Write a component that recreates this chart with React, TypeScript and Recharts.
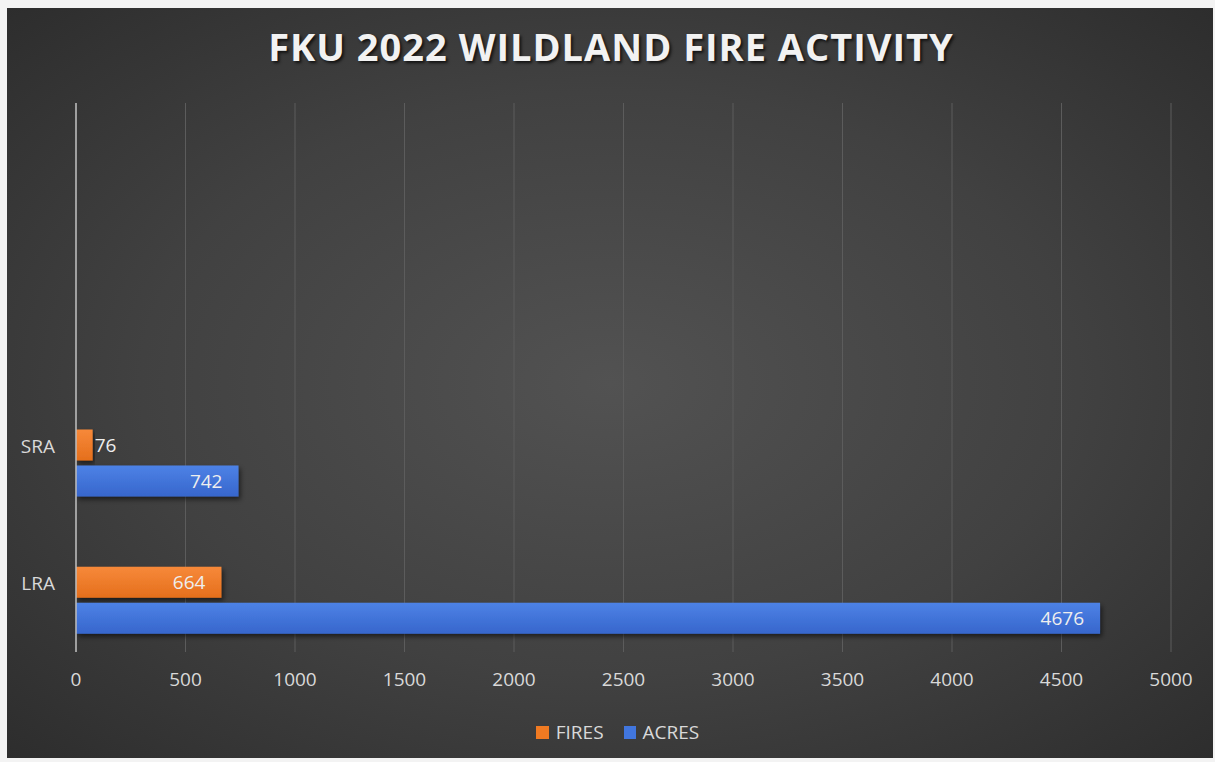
import React from "react"
import { BarChart, Bar, XAxis, YAxis, CartesianGrid, Legend, LabelList } from "recharts"

const categories = ["LRA", "SRA"]
const fires = [664, 76]
const acres = [4676, 742]
// the source sheet has two empty category rows above the data
const emptyRows = 2
const xTicks = [0, 500, 1000, 1500, 2000, 2500, 3000, 3500, 4000, 4500, 5000]

const rows = [
	...Array.from({ length: emptyRows }, () => ({ name: "", FIRES: null, ACRES: null })),
	...categories.map((name, i) => ({ name, FIRES: fires[i], ACRES: acres[i] })).reverse(),
]

const font = "'Open Sans', sans-serif"
const textColor = "#d9d9d9"

const BarValue = (props: any) => {
	const { x, y, width, height, value } = props
	if (value == null) return null
	const inside = width > 45
	return (
		<text
			x={inside ? x + width - 16 : x + width + 2}
			y={y + height / 2}
			textAnchor={inside ? "end" : "start"}
			dominantBaseline='central'
			fill='#eeeeee'
			fontSize={19}
			fontFamily={font}>
			{value}
		</text>
	)
}

const CategoryTick = (props: any) => {
	const { x, y, payload } = props
	return (
		<text x={x} y={y - 17} textAnchor='end' dominantBaseline='central' fill={textColor} fontSize={19} fontFamily={font}>
			{payload.value}
		</text>
	)
}

const LegendBox = () => (
	<div
		style={{
			display: "flex",
			justifyContent: "center",
			alignItems: "center",
			height: 22,
			paddingLeft: 20,
			fontFamily: font,
			fontSize: 19,
			color: textColor,
		}}>
		<span style={{ width: 13, height: 13, background: "#f07a22", marginRight: 7 }} />
		<span style={{ marginRight: 20 }}>FIRES</span>
		<span style={{ width: 12, height: 13, background: "#4176de", marginRight: 7 }} />
		<span>ACRES</span>
	</div>
)

const App = () => {
	return (
		<div style={{ position: "absolute", left: 0, top: 0, width: 1215, height: 762, background: "#f3f3f3" }}>
			<div
				style={{
					position: "absolute",
					left: 7,
					top: 8,
					width: 1206,
					height: 750,
					background: "radial-gradient(ellipse at 50% 50%, #525252 0%, #414141 55%, #2d2d2d 100%)",
				}}
			/>
			<div
				style={{
					position: "absolute",
					left: 0,
					top: 26,
					width: 1222,
					textAlign: "center",
					fontFamily: font,
					fontWeight: 700,
					fontSize: 38,
					lineHeight: "40px",
					letterSpacing: 1,
					color: "#f2f2f2",
					textShadow: "2px 2px 3px rgba(0,0,0,0.7)",
				}}>
				FKU 2022 WILDLAND FIRE ACTIVITY
			</div>
			<div style={{ position: "absolute", left: 0, top: 0 }}>
				<BarChart
					width={1215}
					height={762}
					data={rows}
					layout='vertical'
					barSize={31}
					barGap={5}
					margin={{ top: 103, right: 44, bottom: 19, left: 0 }}>
					<defs>
						<linearGradient id='fireFill' x1='0' y1='0' x2='0' y2='1'>
							<stop offset='0%' stopColor='#f7893a' />
							<stop offset='100%' stopColor='#e56f1c' />
						</linearGradient>
						<linearGradient id='acreFill' x1='0' y1='0' x2='0' y2='1'>
							<stop offset='0%' stopColor='#4d82e6' />
							<stop offset='100%' stopColor='#3766cc' />
						</linearGradient>
						<filter id='barShadow' x='-5%' y='-30%' width='115%' height='180%'>
							<feDropShadow dx='2' dy='3' stdDeviation='2.5' floodColor='#000' floodOpacity='0.55' />
						</filter>
					</defs>
					<CartesianGrid horizontal={false} stroke='#5c5c5c' strokeWidth={1} />
					<XAxis
						type='number'
						domain={[0, 5000]}
						ticks={xTicks}
						axisLine={false}
						tickLine={false}
						tickSize={0}
						tickMargin={21}
						height={69}
						tick={{ fill: textColor, fontSize: 19, fontFamily: font }}
					/>
					<YAxis
						type='category'
						dataKey='name'
						width={76}
						padding={{ top: 17, bottom: -17 }}
						axisLine={{ stroke: "#bdbdbd", strokeWidth: 1.5 }}
						tickLine={false}
						tickSize={0}
						tickMargin={21}
						tick={<CategoryTick />}
					/>
					<Legend verticalAlign='bottom' wrapperStyle={{ left: 0, width: 1215 }} content={<LegendBox />} />
					<Bar dataKey='FIRES' fill='url(#fireFill)' filter='url(#barShadow)' isAnimationActive={false}>
						<LabelList dataKey='FIRES' content={<BarValue />} />
					</Bar>
					<Bar dataKey='ACRES' fill='url(#acreFill)' filter='url(#barShadow)' isAnimationActive={false}>
						<LabelList dataKey='ACRES' content={<BarValue />} />
					</Bar>
				</BarChart>
			</div>
		</div>
	)
}

export default App
